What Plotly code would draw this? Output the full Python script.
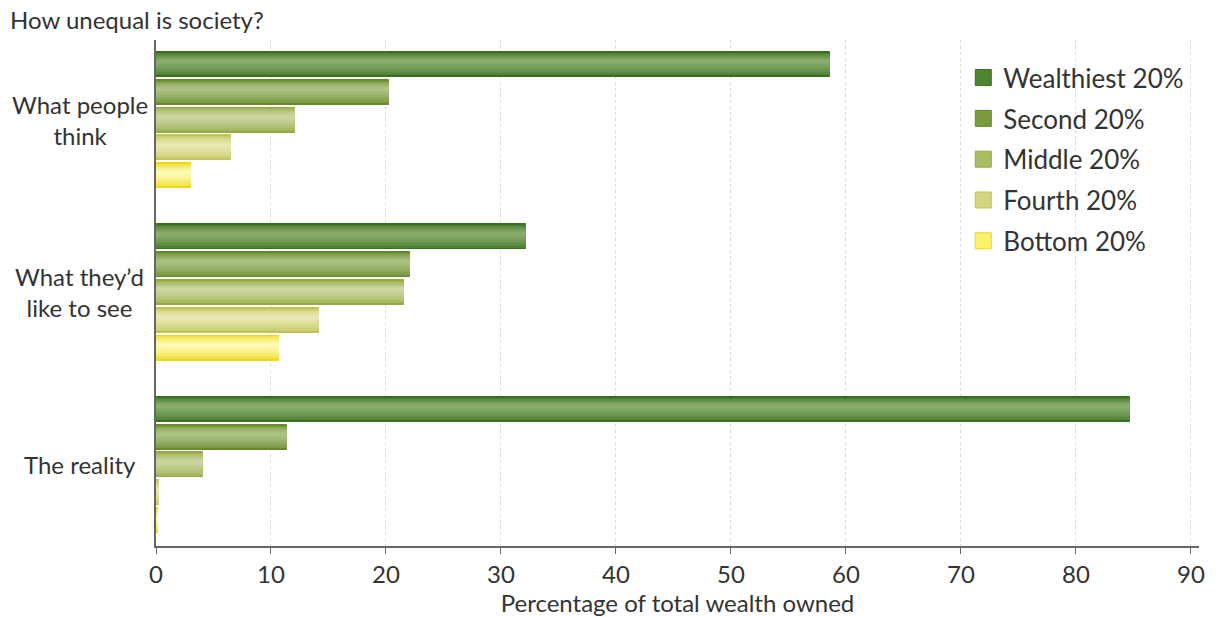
import plotly.graph_objects as go

# Survey groups (top to bottom) and wealth quintiles
groups = ["What people<br>think", "What they’d<br>like to see", "The reality"]
quintiles = ["Wealthiest 20%", "Second 20%", "Middle 20%", "Fourth 20%", "Bottom 20%"]

# Share of total wealth (%) held by each quintile, per group
what_people_think = [58.6, 20.3, 12.1, 6.5, 3.0]
what_theyd_like = [32.2, 22.1, 21.6, 14.2, 10.7]
the_reality = [84.7, 11.4, 4.1, 0.3, 0.15]

x_ticks = [0, 10, 20, 30, 40, 50, 60, 70, 80, 90]

# Cylinder shading: dark rim colour and highlight colour per quintile
rim_colors = ["#37701e", "#66892b", "#94a944", "#c0c256", "#ecd81a"]
shine_colors = ["#8aac6c", "#adc282", "#ccd6a0", "#e8e9b2", "#fffab8"]
legend_colors = ["#4f8530", "#7b9b3f", "#a9bc62", "#d3d583", "#fff06a"]

BAR_W = 0.145      # bar thickness in category units
BAR_STEP = 0.161   # distance between bars inside a group
LAYERS = 10        # shading layers per bar


def mix(c1, c2, t):
    a = [int(c1[i:i + 2], 16) for i in (1, 3, 5)]
    b = [int(c2[i:i + 2], 16) for i in (1, 3, 5)]
    return "rgb({},{},{})".format(*[round(a[j] + (b[j] - a[j]) * t) for j in range(3)])


values_by_group = [what_people_think, what_theyd_like, the_reality]

fig = go.Figure()

for qi, name in enumerate(quintiles):
    xs = [vals[qi] for vals in values_by_group]
    centers = [g + (qi - 2) * BAR_STEP for g in range(len(groups))]
    shift = 0.13 * BAR_W
    for k in range(LAYERS):
        f = k / LAYERS
        t = (k / (LAYERS - 1)) ** 0.6
        fig.add_trace(go.Bar(
            x=xs,
            y=[c - shift * f for c in centers],
            width=BAR_W * (1 - f),
            orientation="h",
            marker=dict(
                color=mix(rim_colors[qi], shine_colors[qi], t),
                line=dict(color=rim_colors[qi], width=1 if k == 0 else 0),
            ),
            showlegend=False,
            hoverinfo="skip" if k else "x",
            name=name,
        ))
    # legend entry
    fig.add_trace(go.Scatter(
        x=[None], y=[None], mode="markers", name=name, legendgroup=name,
        marker=dict(symbol="square", size=16, color=legend_colors[qi],
                    line=dict(color=rim_colors[qi], width=1)),
    ))

for gi, label in enumerate(groups):
    fig.add_annotation(
        text=label, x=-0.073, xref="paper", y=gi, yref="y",
        xanchor="center", yanchor="middle", align="center", showarrow=False,
        font=dict(size=24, color="#333333"),
    )

FONT = "Lato, 'Open Sans', sans-serif"

fig.update_layout(
    width=1217, height=617,
    margin=dict(l=156, r=18, t=40, b=71, autoexpand=False),
    paper_bgcolor="white", plot_bgcolor="white",
    barmode="overlay", bargap=0,
    font=dict(family=FONT, color="#333333"),
    title=dict(text="How unequal is society?", x=10 / 1217, xref="container",
               xanchor="left", y=1 - 21 / 617, yanchor="middle",
               font=dict(size=24, color="#333333")),
    xaxis=dict(
        range=[0, 90.7], tickvals=x_ticks, ticks="outside", ticklen=6,
        tickcolor="#666666", showline=True, linecolor="#666666", linewidth=1.5,
        showgrid=True, gridcolor="#dadada", griddash="dot", gridwidth=1,
        zeroline=False, automargin=False, tickfont=dict(size=24, color="#333333"),
        title=dict(text="Percentage of total wealth owned", standoff=12,
                   font=dict(size=24, color="#333333")),
    ),
    yaxis=dict(
        range=[2.47, -0.464], showticklabels=False, showgrid=False,
        zeroline=False, showline=True, linecolor="#666666", linewidth=1.5,
        ticks="", automargin=False,
    ),
    legend=dict(x=0.774, y=0.972, xanchor="left", yanchor="top",
                tracegroupgap=4, bgcolor="rgba(0,0,0,0)",
                font=dict(size=26, color="#333333")),
)

fig.write_html("out.html")
